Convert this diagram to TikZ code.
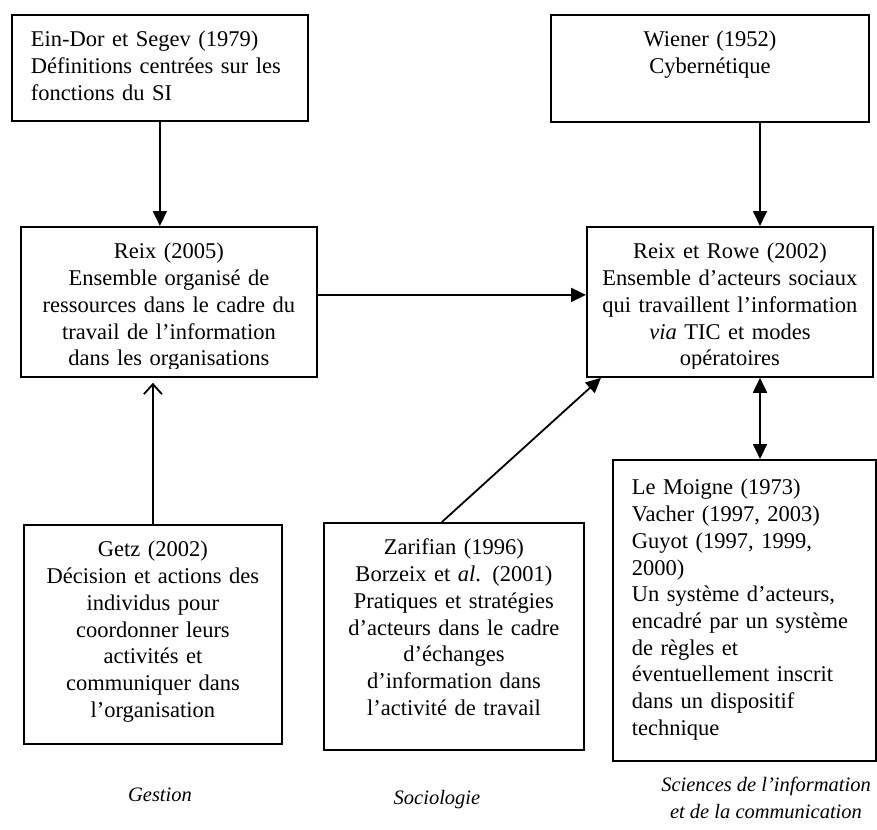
\documentclass[tikz,border=0pt]{standalone}
\usepackage{fontspec}
\setmainfont{Liberation Serif}
\usetikzlibrary{arrows, arrows.meta}

\begin{document}
\begin{tikzpicture}[x=1pt, y=-1pt]
\tikzstyle{box}=[rectangle, draw, line width=1.8pt, inner xsep=0pt, inner ysep=0pt, anchor=north west, align=center, font=\fontsize{22.5}{26.7}\selectfont]
\tikzstyle{lbox}=[box, align=left, inner xsep=19pt]
\tikzstyle{link}=[line width=1.8pt, -{Triangle[length=15pt, width=14pt]}]
\tikzstyle{twoway}=[line width=1.8pt, {Triangle[length=15pt, width=14pt]}-{Triangle[length=15pt, width=14pt]}]
\tikzstyle{backlink}=[line width=1.8pt, -{Straight Barb[length=10pt, width=18pt]}, shorten >=5pt]
\tikzstyle{field}=[font=\fontsize{20.5}{27}\selectfont\itshape, align=center]
\useasboundingbox (0,0) rectangle (877,829);

\node[lbox, text width=258pt, text height=32pt, text depth=74pt] (E1) at (11,14) {Ein-Dor et Segev (1979)\\Définitions centrées sur les\\fonctions du SI};
\node[box, text width=318pt, text height=32pt, text depth=75pt] (W1) at (550,14) {Wiener (1952)\\Cybernétique};
\node[box, text width=296pt, text height=32pt, text depth=118pt] (B2) at (20,226) {Reix (2005)\\Ensemble organisé de\\ressources dans le cadre du\\travail de l’information\\dans les organisations};
\node[box, text width=286pt, text height=32pt, text depth=118pt] (C1) at (586,226) {Reix et Rowe (2002)\\Ensemble d’acteurs sociaux\\qui travaillent l’information\\\textit{via} TIC et modes\\opératoires};
\node[box, text width=258pt, text height=32pt, text depth=187pt] (G1) at (23,524) {Getz (2002)\\Décision et actions des\\individus pour\\coordonner leurs\\activités et\\communiquer dans\\l’organisation};
\node[box, text width=260pt, text height=32pt, text depth=195pt] (Z1) at (323,522) {Zarifian (1996)\\Borzeix et \textit{al}. (2001)\\Pratiques et stratégies\\d’acteurs dans le cadre\\d’échanges\\d’information dans\\l’activité de travail};
\node[lbox, text width=225pt, text height=35pt, text depth=266pt] (M1) at (612,459) {Le Moigne (1973)\\Vacher (1997, 2003)\\Guyot (1997, 1999,\\2000)\\Un système d’acteurs,\\encadré par un système\\de règles et\\éventuellement inscrit\\dans un dispositif\\technique};

% texte coupe en bas des cadres
\fill[white] ([xshift=1.8pt, yshift=1.8pt]B2.south west) rectangle ([xshift=-1.8pt, yshift=9pt]B2.south east);
\fill[white] ([xshift=1.8pt, yshift=1.8pt]C1.south west) rectangle ([xshift=-1.8pt, yshift=9pt]C1.south east);

\coordinate (X1) at (760,0);
\draw[link] (E1.south) -- (E1.south |- B2.north);
\draw[backlink] (G1.north) -- (G1.north |- B2.south);
\draw[link] ([yshift=7pt]B2.east) -- ([yshift=7pt]B2.east -| C1.west);
\draw[link] (W1.south -| X1) -- (C1.north -| X1);
\draw[twoway] (C1.south -| X1) -- (M1.north -| X1);
\draw[link] ([xshift=-12pt]Z1.north) -- ([xshift=15pt]C1.south west);

\node[field] (F1) at (160,795) {Gestion};
\node[field] (F2) at (437,800) {Sociologie};
\node[field] (F3) at (766,798) {Sciences de l’information\\et de la communication};

\end{tikzpicture}
\end{document}
